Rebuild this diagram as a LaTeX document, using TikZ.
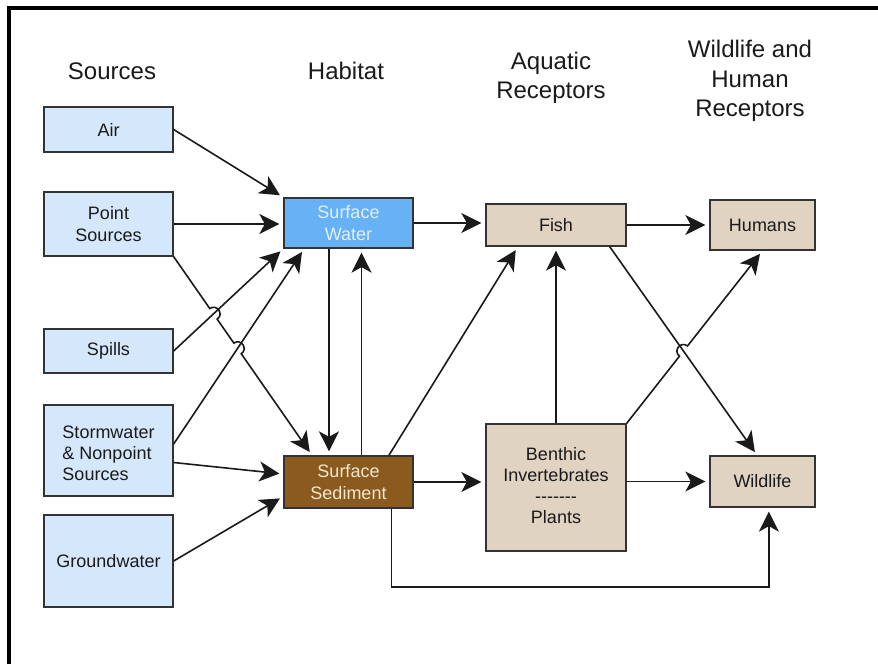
\documentclass[tikz,border=0pt]{standalone}
\usepackage{fontspec}
\setmainfont{Liberation Sans}
\usetikzlibrary{arrows.meta,calc,intersections}
\definecolor{srcfill}{HTML}{D5E7FA}
\definecolor{swfill}{HTML}{66B2F4}
\definecolor{swtext}{HTML}{E4EEFA}
\definecolor{sedfill}{HTML}{8A5A1E}
\definecolor{sedtext}{HTML}{F4E7D2}
\definecolor{recfill}{HTML}{E0D3C2}
\definecolor{edgecol}{HTML}{333333}
\definecolor{ink}{HTML}{1A1A1A}
\newcommand{\mkhop}[3]{%
  \coordinate (#1a) at ($(#1)!6.5pt!(#2)$);
  \coordinate (#1b) at ($(#1)!6.5pt!(#3)$);
  \coordinate (#1c) at ($(#1a)!8.7pt!90:(#1b)$);
  \coordinate (#1d) at ($(#1b)!8.7pt!-90:(#1a)$);
}
\begin{document}
\begin{tikzpicture}[x=1pt,y=-1pt,
  box/.style={draw=edgecol,line width=1.3pt,inner sep=0pt,align=center,
    font=\fontsize{18}{22}\selectfont,text=ink},
  src/.style={box,fill=srcfill,minimum width=129pt},
  rec/.style={box,fill=recfill},
  hdr/.style={align=center,font=\fontsize{24}{29.5}\selectfont,text=ink},
  arr/.style={draw=ink,line width=1.6pt,
    -{Stealth[length=20pt,width=20pt,inset=5.5pt]},shorten >=4pt}]
\useasboundingbox (0,0) rectangle (878,664);
\fill[white] (0,0) rectangle (878,664);
\draw[line width=4pt] (9,664) -- (9,8) -- (878,8);

% headers
\node[hdr] (hsrc) at (112,71) {Sources};
\node[hdr] (hhab) at (346,71) {Habitat};
\node[hdr] (haq) at (551,78) {Aquatic\\Receptors};
\node[hdr] (hwh) at (750,81) {Wildlife and\\Human\\Receptors};

% sources
\node[src,minimum height=45pt] (air) at (108.5,129.5) {Air};
\node[src,minimum height=64pt] (ps) at (108.5,224) {Point\\Sources};
\node[src,minimum height=44pt] (spills) at (108.5,351) {Spills};
\node[src,minimum height=91pt] (storm) at (108.5,450.5) {\raisebox{-4.5pt}[\height][\depth]{\begin{tabular}{@{}l@{}}Stormwater\\[-1pt]\& Nonpoint\\[-1pt]Sources\end{tabular}}};
\node[src,minimum height=92pt] (gw) at (108.5,561) {Groundwater};

% habitat
\node[box,fill=swfill,text=swtext,minimum width=129pt,minimum height=50pt] (sw) at (348.5,223) {Surface\\Water};
\node[box,fill=sedfill,text=sedtext,minimum width=129pt,minimum height=52pt] (sed) at (348.5,482) {Surface\\Sediment};

% receptors
\node[rec,minimum width=140pt,minimum height=42pt] (fish) at (556,225) {Fish};
\node[rec,minimum width=105pt,minimum height=50pt] (hum) at (762.5,225) {Humans};
\node[rec,minimum width=140pt,minimum height=127pt] (ben) at (556,487.5) {\begin{tabular}{@{}c@{}}Benthic\\[-1pt]Invertebrates\\[-1pt]-{}-{}-{}-{}-{}-{}-\\[-1pt]Plants\end{tabular}};
\node[rec,minimum width=105pt,minimum height=51pt] (wild) at (762.5,481.5) {Wildlife};

% helper coordinates
\coordinate (psA) at (ps.south east);
\coordinate (psB) at ($(sed.north west)!0.22!(sed.north east)$);
\coordinate (stA) at ($(storm.north east)!0.43!(storm.south east)$);
\coordinate (stB) at ($(sw.south west)!0.16!(sw.south east)$);
\coordinate (fwA) at ($(fish.south west)!0.88!(fish.south east)$);
\coordinate (fwB) at ($(wild.north west)!0.45!(wild.north east)$);
\coordinate (bhA) at (ben.north east);
\coordinate (bhB) at (hum.south);
\coordinate (sedb) at ($(sed.south west)!0.83!(sed.south east)$);
\coordinate (wildb) at ($(wild.south west)!0.56!(wild.south east)$);
\coordinate (bot) at (0,587);

% sources -> habitat
\draw[arr] (air.east) -- (sw.north west);
\draw[arr] (ps.east) -- (ps.east -| sw.west);
\draw[arr,name path=spl] (spills.east) -- (sw.south west);
\draw[arr,name path=stl] (stA) -- (stB);
\draw[arr] ($(storm.north east)!0.63!(storm.south east)$) -- ($(sed.north west)!0.35!(sed.south west)$);
\draw[arr] (gw.east) -- ($(sed.north west)!0.77!(sed.south west)$);

% point sources -> sediment with hops
\path[name path=psl] (psA) -- (psB);
\path[name intersections={of=psl and spl,by=ha}];
\path[name intersections={of=psl and stl,by=hb}];
\mkhop{ha}{psA}{psB}
\mkhop{hb}{psA}{psB}
\draw[arr] (psA) -- (haa) .. controls (hac) and (had) .. (hab)
  -- (hba) .. controls (hbc) and (hbd) .. (hbb) -- (psB);

% habitat exchanges
\draw[arr] ($(sw.south west)!0.35!(sw.south east)$) -- ($(sed.north west)!0.35!(sed.north east)$);
\draw[arr] ($(sed.north west)!0.6!(sed.north east)$) -- ($(sw.south west)!0.6!(sw.south east)$);

% habitat -> aquatic receptors
\draw[arr] (sw.east) -- (sw.east -| fish.west);
\draw[arr] ($(sed.north west)!0.81!(sed.north east)$) -- ($(fish.south west)!0.23!(fish.south east)$);
\draw[arr] (sed.east) -- (sed.east -| ben.west);
\draw[arr] (sedb) -- (sedb |- bot) -- (wildb |- bot) -- (wildb);

% aquatic -> wildlife/human
\draw[arr] (ben.north) -- (fish.south);
\draw[arr] (fish.east) -- (fish.east -| hum.west);
\draw[arr,name path=fwl] (fwA) -- (fwB);
\draw[arr] (ben.east |- wild.west) -- (wild.west);
\path[name path=bhl] (bhA) -- (bhB);
\path[name intersections={of=bhl and fwl,by=hc}];
\mkhop{hc}{bhA}{bhB}
\draw[arr] (bhA) -- (hca) .. controls (hcc) and (hcd) .. (hcb) -- (bhB);
\end{tikzpicture}
\end{document}
